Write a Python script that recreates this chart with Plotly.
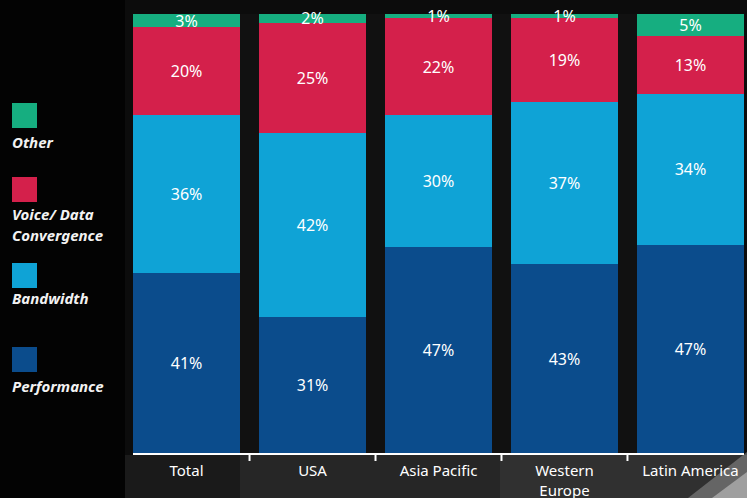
import plotly.graph_objects as go

categories = ["Total", "USA", "Asia Pacific", "Western<br>Europe", "Latin America"]
performance = [41, 31, 47, 43, 47]
bandwidth = [36, 42, 30, 37, 34]
voice_data = [20, 25, 22, 19, 13]
other = [3, 2, 1, 1, 5]

series = [
    ("Performance", performance, "#0B4C8C"),
    ("Bandwidth", bandwidth, "#0FA3D6"),
    ("Voice/ Data<br>Convergence", voice_data, "#D4204B"),
    ("Other", other, "#16AE80"),
]

W, H = 747, 498
L, R, T, B = 133, 3, 14, 45
PW, PH = W - L - R, H - T - B
FONT = "Noto Sans, Open Sans, sans-serif"


def px(x):
    return (x - L) / PW


def py(y):
    return 1 - (y - T) / PH


fig = go.Figure()
for name, vals, color in series:
    fig.add_trace(go.Bar(
        x=categories, y=vals, name=name,
        marker=dict(color=color, line=dict(width=0)),
        text=[f"{v}%" for v in vals],
        textposition="inside", insidetextanchor="middle",
        constraintext="none", cliponaxis=False,
        textfont=dict(color="white", size=16, family=FONT),
        showlegend=False, hoverinfo="skip",
    ))

shapes = []
# background glows
shapes.append(dict(type="rect", xref="paper", yref="paper", x0=px(0), x1=px(125),
                   y0=py(498), y1=py(0), fillcolor="#030303", line_width=0, layer="below"))
shapes.append(dict(type="rect", xref="paper", yref="paper", x0=px(125), x1=px(747),
                   y0=py(498), y1=py(455), fillcolor="#1a1a1a", line_width=0, layer="below"))
shapes.append(dict(type="rect", xref="paper", yref="paper", x0=px(240), x1=px(747),
                   y0=py(498), y1=py(455), fillcolor="#3a3a3a", opacity=0.4, line_width=0, layer="below"))
shapes.append(dict(type="rect", xref="paper", yref="paper", x0=px(500), x1=px(747),
                   y0=py(498), y1=py(455), fillcolor="#4a4a4a", opacity=0.3, line_width=0, layer="below"))
shapes.append(dict(type="path", xref="paper", yref="paper",
                   path=f"M {px(688)} {py(498)} L {px(747)} {py(452)} L {px(747)} {py(498)} Z",
                   fillcolor="#9a9a9a", opacity=0.5, line_width=0, layer="below"))
shapes.append(dict(type="path", xref="paper", yref="paper",
                   path=f"M {px(712)} {py(498)} L {px(747)} {py(472)} L {px(747)} {py(498)} Z",
                   fillcolor="#d0d0d0", opacity=0.55, line_width=0, layer="below"))
# ticks between categories
for xv in [0.5, 1.5, 2.5, 3.5]:
    shapes.append(dict(type="line", xref="x", yref="paper", x0=xv, x1=xv,
                       y0=py(454), y1=py(461), line=dict(color="white", width=2)))

# legend
legend_items = [
    ("#16AE80", 103, ["Other"], [142]),
    ("#D4204B", 177, ["Voice/ Data", "Convergence"], [214, 235]),
    ("#0FA3D6", 263, ["Bandwidth"], [298]),
    ("#0B4C8C", 347, ["Performance"], [386]),
]
annotations = []
for color, ytop, lines, ys in legend_items:
    shapes.append(dict(type="rect", xref="paper", yref="paper", x0=px(12), x1=px(37),
                       y0=py(ytop + 25), y1=py(ytop), fillcolor=color, line_width=0))
    for txt, yy in zip(lines, ys):
        annotations.append(dict(xref="paper", yref="paper", x=px(10), y=py(yy),
                                xanchor="left", yanchor="middle", showarrow=False,
                                text=f"<b><i>{txt}</i></b>",
                                font=dict(color="#f2f2f2", size=15, family=FONT)))

fig.update_layout(
    width=W, height=H,
    margin=dict(l=L, r=R, t=T, b=B, autoexpand=False),
    barmode="stack", barnorm="percent", bargap=0.15,
    paper_bgcolor="#0c0c0c", plot_bgcolor="#111111",
    shapes=shapes, annotations=annotations,
    xaxis=dict(range=[-0.425, 4.425], showline=True, linecolor="white", linewidth=2,
               ticks="", showgrid=False, zeroline=False, ticklabelstandoff=3,
               automargin=False,
               tickfont=dict(color="white", size=15, family=FONT)),
    yaxis=dict(range=[0, 100.02], visible=False, showgrid=False, zeroline=False,
               automargin=False),
)

fig.write_html("out.html", config={"displayModeBar": False},
               post_script="document.body.style.margin='0';")
